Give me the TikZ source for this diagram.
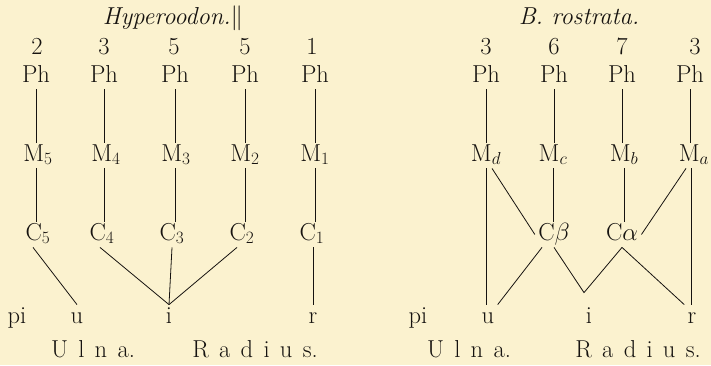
\documentclass[tikz,border=0pt]{standalone}
\usepackage{tikz}
\usetikzlibrary{calc}
\definecolor{paper}{RGB}{251,242,207}
\definecolor{ink}{RGB}{22,19,16}
\newcommand{\lsp}{\hspace{0.42em}}

\begin{document}
\begin{tikzpicture}[x=1pt,y=-1pt,line width=0.8pt,draw=ink,
 t/.style={anchor=base,font=\fontsize{24.5}{28}\selectfont,text height=15pt,text depth=4pt,inner sep=3pt,text=ink}]
 \fill[paper] (0,0) rectangle (711,365);
 \useasboundingbox (0,0) rectangle (711,365);

 % Hyperoodon
 \node[t] (tl) at (173,24) {\textit{Hyperoodon.}$\|$};
 \node[t] (n5) at (37,54) {2};  \node[t] (n4) at (104,54) {3};
 \node[t] (n3) at (174,54) {5}; \node[t] (n2) at (245,54) {5};
 \node[t] (n1) at (312,54) {1};
 \node[t] (ph5) at (36,82) {Ph};  \node[t] (ph4) at (104,82) {Ph};
 \node[t] (ph3) at (175,82) {Ph}; \node[t] (ph2) at (245,82) {Ph};
 \node[t] (ph1) at (315,82) {Ph};
 \node[t] (m5) at (38,161) {M$_5$};  \node[t] (m4) at (106,161) {M$_4$};
 \node[t] (m3) at (176,161) {M$_3$}; \node[t] (m2) at (245,161) {M$_2$};
 \node[t] (m1) at (315,161) {M$_1$};
 \node[t] (c5) at (38,240) {C$_5$};  \node[t] (c4) at (102,240) {C$_4$};
 \node[t] (c3) at (172,240) {C$_3$}; \node[t] (c2) at (242,240) {C$_2$};
 \node[t] (c1) at (312,240) {C$_1$};
 \node[t] (pi) at (17,323) {pi}; \node[t] (u) at (77,323) {u};
 \node[t] (i) at (169,323) {i};  \node[t] (r) at (313,323) {r};
 \node[t] (ul) at (93,357) {U\lsp l\lsp n\lsp a.};
 \node[t] (ra) at (255,357) {R\lsp a\lsp d\lsp i\lsp u\lsp s.};
 \foreach \k in {1,...,5}{
  \draw (ph\k.south) -- (ph\k.south |- m\k.north);
  \draw (ph\k.south |- m\k.south) -- (ph\k.south |- c\k.north);
 }
 \draw ([xshift=-5pt]c5.south) -- (u.north);
 \draw ([xshift=-2pt]c4.south) -- (i.north);
 \draw (c3.south) -- (i.north);
 \draw ([xshift=-5pt]c2.south) -- (i.north);
 \draw (r.north |- c1.south) -- (r.north);

 % B. rostrata
 \node[t] (tr) at (579,24) {\textit{B. rostrata.}};
 \node[t] (nd) at (486,54) {3}; \node[t] (nc) at (554,54) {6};
 \node[t] (nb) at (622,54) {7}; \node[t] (na) at (695,54) {3};
 \node[t] (phd) at (486,82) {Ph}; \node[t] (phc) at (554,82) {Ph};
 \node[t] (phb) at (622,82) {Ph}; \node[t] (pha) at (690,82) {Ph};
 \node[t] (md) at (486,161) {M$_d$}; \node[t] (mc) at (553,161) {M$_c$};
 \node[t] (mb) at (624,161) {M$_b$}; \node[t] (ma) at (694,161) {M$_a$};
 \node[t] (cb) at (554,240) {C$\beta$}; \node[t] (ca) at (622,240) {C$\alpha$};
 \node[t] (pib) at (418,323) {pi}; \node[t] (ub) at (488,323) {u};
 \node[t] (ib) at (589,323) {i};   \node[t] (rb) at (692,323) {r};
 \node[t] (ulb) at (469,357) {U\lsp l\lsp n\lsp a.};
 \node[t] (rab) at (638,357) {R\lsp a\lsp d\lsp i\lsp u\lsp s.};
 \coordinate (iv) at ([xshift=-5pt,yshift=12pt]ib.north);
 \foreach \k in {a,b,c,d}
  \draw (ph\k.south) -- (ph\k.south |- m\k.north);
 \draw (md.south) -- (md.south |- ub.north);
 \draw ([xshift=6pt]md.south) -- (cb.west);
 \draw (mc.south) -- (mc.south |- cb.north);
 \draw (mb.south) -- (mb.south |- ca.north);
 \draw ([xshift=-8pt]ma.south) -- (ca.east);
 \draw ([xshift=-3pt]ma.south) -- ([xshift=-3pt]ma.south |- rb.north);
 \draw ([xshift=-12pt]cb.south) -- (ub.north east);
 \draw (cb.south) -- (iv) -- (ca.south);
 \draw (ca.south) -- (rb.north west);
\end{tikzpicture}
\end{document}
